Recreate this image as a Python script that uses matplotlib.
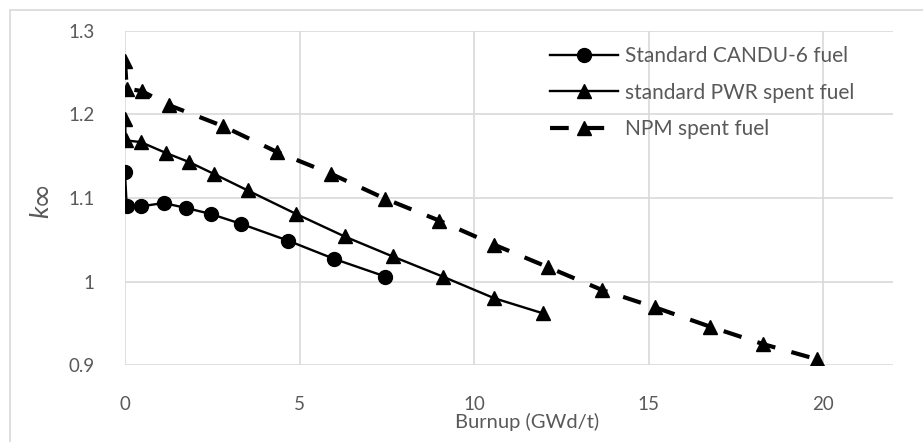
import matplotlib.pyplot as plt
from matplotlib.patches import Rectangle

# data
candu_x = [0.0, 0.05, 0.45, 1.11, 1.76, 2.45, 3.33, 4.67, 6.0, 7.46]
candu_k = [1.131, 1.090, 1.090, 1.094, 1.088, 1.081, 1.069, 1.049, 1.027, 1.006]

pwr_x = [0.0, 0.02, 0.45, 1.17, 1.84, 2.54, 3.52, 4.9, 6.29, 7.67, 9.1, 10.58, 11.97]
pwr_k = [1.195, 1.169, 1.167, 1.154, 1.143, 1.129, 1.109, 1.081, 1.054, 1.030, 1.006, 0.980, 0.962]

npm_x = [0.0, 0.05, 0.48, 1.27, 2.81, 4.36, 5.9, 7.46, 9.0, 10.58, 12.13, 13.66, 15.19, 16.76, 18.29, 19.82]
npm_k = [1.264, 1.231, 1.228, 1.211, 1.186, 1.155, 1.129, 1.099, 1.073, 1.044, 1.017, 0.990, 0.969, 0.946, 0.925, 0.907]

x_ticks = [0, 5, 10, 15, 20]
y_ticks = [0.9, 1.0, 1.1, 1.2, 1.3]
y_tick_labels = ["0.9", "1", "1.1", "1.2", "1.3"]

plt.rcParams['font.family'] = ['Lato', 'DejaVu Sans']
grey = '#595959'
grid = '#d9d9d9'

fig = plt.figure(figsize=(9.23, 4.42), dpi=100)
# chart area border (only left and top edges are inside the picture)
fig.patches.append(Rectangle((0.011, -0.1), 1.2, 1.077, transform=fig.transFigure,
                             fill=False, edgecolor='#d9d9d9', linewidth=1.2))
ax = fig.add_axes([0.1354, 0.174, 0.8321, 0.756])

ax.plot(candu_x, candu_k, color='black', linewidth=1.7, marker='o', markersize=10,
        label='Standard CANDU-6 fuel')
ax.plot(pwr_x, pwr_k, color='black', linewidth=1.7, marker='^', markersize=10,
        label='standard PWR spent fuel')
ax.plot(npm_x, npm_k, color='black', linewidth=3.0, linestyle=(0, (4.5, 4)), marker='^',
        markersize=10, label='NPM spent fuel')

ax.set_xlim(0, 22)
ax.set_ylim(0.9, 1.3)
ax.set_xticks(x_ticks)
ax.set_yticks(y_ticks)
ax.set_yticklabels(y_tick_labels)
ax.grid(True, color=grid, linewidth=1.2)
ax.set_axisbelow(True)
for s in ax.spines.values():
    s.set_visible(False)
ax.tick_params(length=0, labelsize=13.5, colors=grey, pad=22)

# y label "k∞": the infinity sign is drawn larger, as in the reference
fig.text(0.0445, 0.521, 'k', fontsize=19, color=grey, fontstyle='italic',
         rotation=90, ha='center', va='center')
fig.text(0.0445, 0.565, '\u221e', fontsize=22, color=grey, family=['DejaVu Sans'],
         rotation=90, ha='center', va='center')
fig.text(0.571, 0.045, 'Burnup (GWd/t)', fontsize=14.5, color=grey, ha='center', va='center')

leg = ax.legend(loc='upper left', bbox_to_anchor=(0.553, 0.955), frameon=False, fontsize=15,
                handlelength=3.3, handletextpad=0.3, labelspacing=0.8,
                borderaxespad=0, borderpad=0)
for t in leg.get_texts():
    t.set_color(grey)

fig.savefig('out.png', dpi=100)
